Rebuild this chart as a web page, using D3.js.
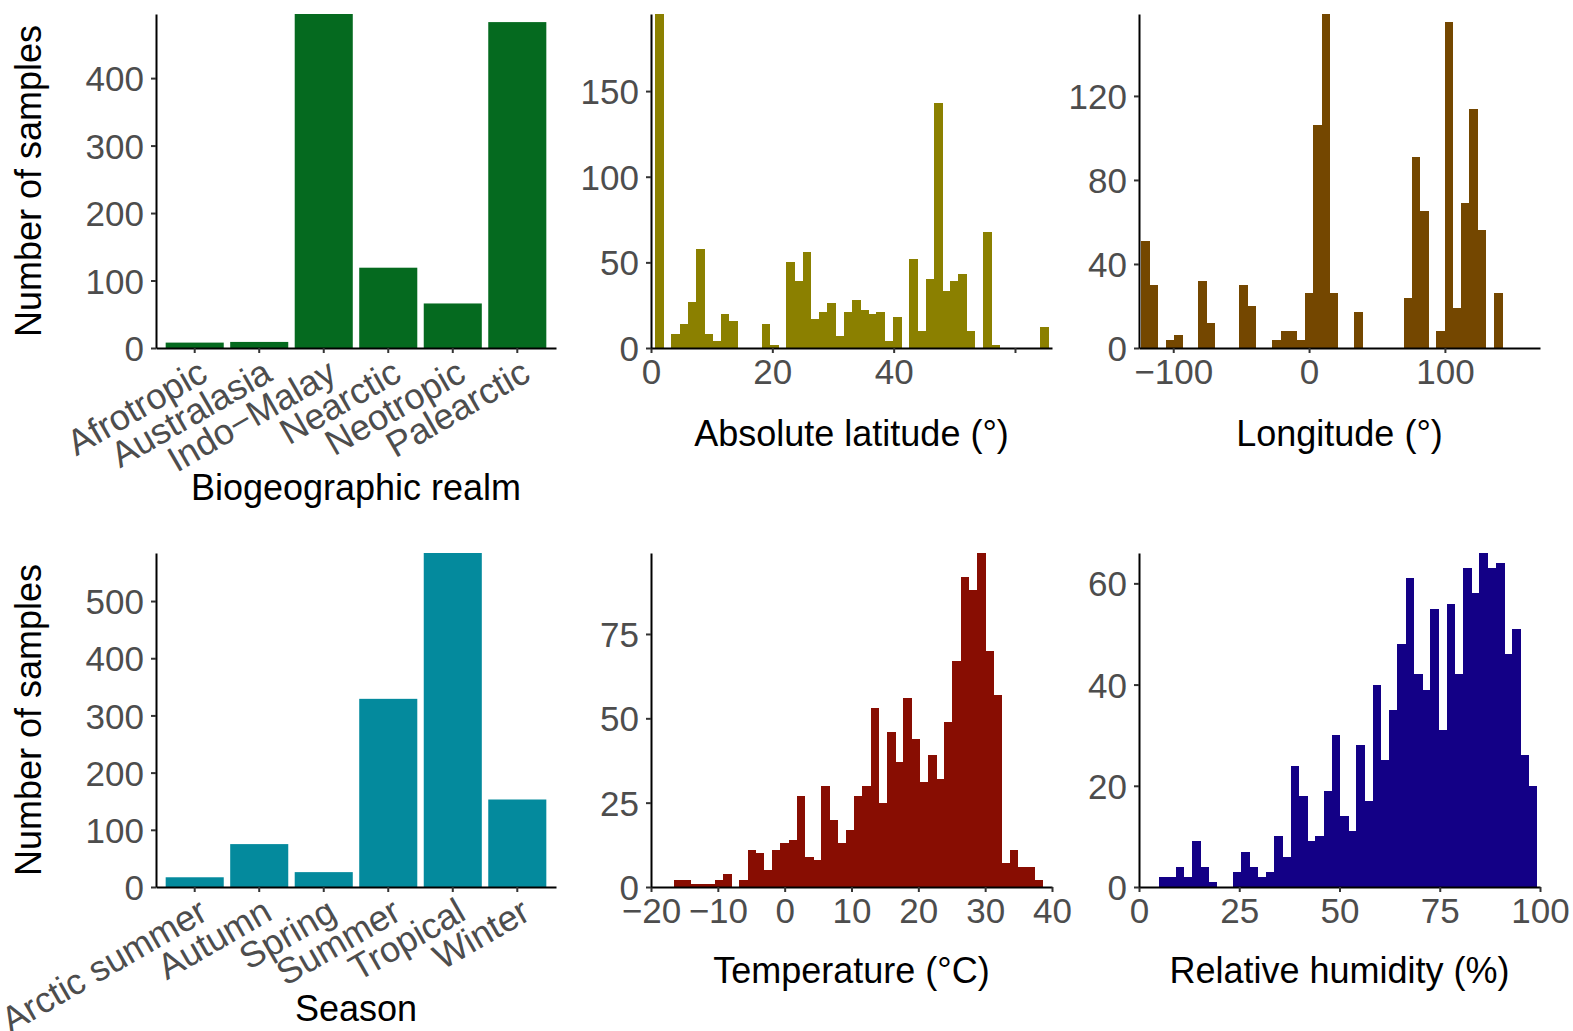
<!DOCTYPE html>
<html>
<head>
<meta charset="utf-8">
<script src="https://cdn.jsdelivr.net/npm/d3@7/dist/d3.min.js"></script>
<style>
  body { margin: 0; background: #fff; }
  svg { display: block; font-family: "Liberation Sans", Arial, Helvetica, sans-serif; }
</style>
</head>
<body>
<div class="chartWrapper"></div>
<script>
// bar chart data
var realmNames = ['Afrotropic', 'Australasia', 'Indo\u2212Malay', 'Nearctic', 'Neotropic', 'Palearctic'];
var realmCounts = [8, 9, 495, 119, 66, 483];
var seasonNames = ['Arctic summer', 'Autumn', 'Spring', 'Summer', 'Tropical', 'Winter'];
var seasonCounts = [17, 75, 26, 329, 584, 153];

// histogram data: first bin edge, bin width, counts per bin
var latStart = 0.66, latWidth = 1.352;
var latCounts = [195, 0, 8, 14, 27, 58, 8, 4, 20, 16, 0, 0, 0, 14, 2, 0, 50, 39, 56, 17, 21, 26, 7, 21,
                 28, 22, 20, 21, 4, 18, 0, 52, 10, 40, 143, 33, 39, 43, 10, 0, 68, 2, 0, 0, 0, 0, 0, 12];
var lonStart = -123.7, lonWidth = 6.04;
var lonCounts = [51, 30, 0, 4, 6, 0, 0, 32, 12, 0, 0, 0, 30, 20, 0, 0, 4, 8, 8, 4, 26, 106, 159, 26,
                 0, 0, 17, 0, 0, 0, 0, 0, 24, 91, 65, 0, 8, 155, 19, 69, 114, 56, 0, 26];
var tempStart = -16.58, tempWidth = 1.226;
var tempCounts = [2, 2, 1, 1, 1, 2, 4, 0, 2, 11, 10, 5, 11, 13, 14, 27, 9, 8, 30, 20, 13, 17, 27, 30,
                  53, 25, 46, 37, 56, 44, 31, 39, 32, 49, 67, 92, 88, 99, 70, 57, 7, 11, 6, 6, 2];
var humStart = 5.07, humWidth = 2.047;
var humCounts = [2, 2, 4, 2, 9, 4, 1, 0, 0, 3, 7, 4, 2, 3, 10, 6, 24, 18, 9, 10, 19, 30, 14, 11,
                 28, 17, 40, 25, 35, 48, 61, 42, 39, 55, 31, 56, 42, 63, 58, 66, 63, 64, 46, 51, 26, 20];

// ticks
var realmYTicks = [0, 100, 200, 300, 400];
var seasonYTicks = [0, 100, 200, 300, 400, 500];
var latXTicks = [0, 20, 40, 60];
var latXLabels = ['0', '20', '40', ''];
var latYTicks = [0, 50, 100, 150];
var lonXTicks = [-100, 0, 100];
var lonYTicks = [0, 40, 80, 120];
var tempXTicks = [-20, -10, 0, 10, 20, 30, 40];
var tempYTicks = [0, 25, 50, 75];
var humXTicks = [0, 25, 50, 75, 100];
var humYTicks = [0, 20, 40, 60];

var W = 1573, H = 1031;
var cols = [{ left: 156, right: 556 }, { left: 651, right: 1052 }, { left: 1139, right: 1540 }];
var rows = [{ top: 14, bottom: 348 }, { top: 553, bottom: 887 }];
var tickFont = 35, catFont = 36, titleFont = 36;

var svg = d3.select('.chartWrapper').append('svg')
    .attr('width', W)
    .attr('height', H);
svg.append('rect').attr('width', W).attr('height', H).attr('fill', '#fff');

function fmt(v) {
    return v < 0 ? '\u2212' + Math.abs(v) : String(v);
}

function styleAxis(g) {
    g.select('.domain').attr('stroke', '#000').attr('stroke-width', 2);
    g.selectAll('.tick line').attr('stroke', '#333').attr('stroke-width', 2);
    g.selectAll('.tick text').attr('fill', '#4d4d4d').attr('font-size', tickFont)
        .attr('font-family', '"Liberation Sans", Arial, Helvetica, sans-serif');
}

function drawYAxis(col, row, yScale, ticks) {
    var g = svg.append('g')
        .attr('transform', 'translate(' + col.left + ',0)')
        .call(d3.axisLeft(yScale).tickValues(ticks).tickFormat(fmt).tickSize(5).tickSizeOuter(0).tickPadding(7));
    styleAxis(g);
    g.selectAll('.tick text').attr('dy', '0.36em');
}

function drawXTitle(col, y, text) {
    svg.append('text')
        .attr('x', (col.left + col.right) / 2)
        .attr('y', y)
        .attr('text-anchor', 'middle')
        .attr('font-size', titleFont)
        .attr('fill', '#000')
        .text(text);
}

function drawYTitle(row) {
    svg.append('text')
        .attr('transform', 'translate(41,' + (row.top + row.bottom) / 2 + ') rotate(-90)')
        .attr('text-anchor', 'middle')
        .attr('font-size', titleFont)
        .attr('fill', '#000')
        .text('Number of samples');
}

function drawBarPanel(col, row, names, counts, yTicks, color, title, titleY) {
    var xScale = d3.scaleBand()
        .domain(names)
        .range([col.left, col.right])
        .paddingInner(0.1)
        .paddingOuter(0.15);
    var yScale = d3.scaleLinear()
        .domain([0, d3.max(counts)])
        .range([row.bottom, row.top]);

    svg.append('g').selectAll('rect')
        .data(counts)
        .enter()
        .append('rect')
        .attr('fill', color)
        .attr('x', function (d, i) { return xScale(names[i]); })
        .attr('y', function (d) { return yScale(d); })
        .attr('width', xScale.bandwidth())
        .attr('height', function (d) { return row.bottom - yScale(d); });

    var gx = svg.append('g')
        .attr('transform', 'translate(0,' + row.bottom + ')')
        .call(d3.axisBottom(xScale).tickSize(5).tickSizeOuter(0));
    styleAxis(gx);
    gx.selectAll('.tick text')
        .attr('font-size', catFont)
        .attr('text-anchor', 'end')
        .attr('y', 0)
        .attr('dy', '0.72em')
        .attr('transform', 'translate(2,9) rotate(-30)');

    drawYAxis(col, row, yScale, yTicks);
    drawYTitle(row);
    drawXTitle(col, titleY, title);
}

function drawHistPanel(col, row, start, width, counts, xDomain, xTicks, xLabels, yTicks, color, title, titleY) {
    var xScale = d3.scaleLinear().domain(xDomain).range([col.left, col.right]);
    var yScale = d3.scaleLinear().domain([0, d3.max(counts)]).range([row.bottom, row.top]);

    svg.append('g').selectAll('rect')
        .data(counts)
        .enter()
        .append('rect')
        .attr('fill', color)
        .attr('shape-rendering', 'crispEdges')
        .attr('x', function (d, i) { return xScale(start + i * width); })
        .attr('y', function (d) { return yScale(d); })
        .attr('width', function (d, i) { return xScale(start + (i + 1) * width) - xScale(start + i * width) + 0.5; })
        .attr('height', function (d) { return row.bottom - yScale(d); });

    var gx = svg.append('g')
        .attr('transform', 'translate(0,' + row.bottom + ')')
        .call(d3.axisBottom(xScale).tickValues(xTicks)
            .tickFormat(function (d, i) { return xLabels ? xLabels[i] : fmt(d); })
            .tickSize(5).tickSizeOuter(0).tickPadding(6));
    styleAxis(gx);
    gx.selectAll('.tick text').attr('dy', '0.72em');

    drawYAxis(col, row, yScale, yTicks);
    drawXTitle(col, titleY, title);
}

drawBarPanel(cols[0], rows[0], realmNames, realmCounts, realmYTicks, '#056a1f', 'Biogeographic realm', 500);
drawHistPanel(cols[1], rows[0], latStart, latWidth, latCounts, [0, 66.1], latXTicks, latXLabels, latYTicks, '#8b8000', 'Absolute latitude (\u00b0)', 446);
drawHistPanel(cols[2], rows[0], lonStart, lonWidth, lonCounts, [-125.2, 170], lonXTicks, null, lonYTicks, '#744700', 'Longitude (\u00b0)', 446);
drawBarPanel(cols[0], rows[1], seasonNames, seasonCounts, seasonYTicks, '#048a9d', 'Season', 1021);
drawHistPanel(cols[1], rows[1], tempStart, tempWidth, tempCounts, [-20, 40], tempXTicks, null, tempYTicks, '#880d02', 'Temperature (\u00b0C)', 983);
drawHistPanel(cols[2], rows[1], humStart, humWidth, humCounts, [0, 100], humXTicks, null, humYTicks, '#130086', 'Relative humidity (%)', 983);
</script>
</body>
</html>
